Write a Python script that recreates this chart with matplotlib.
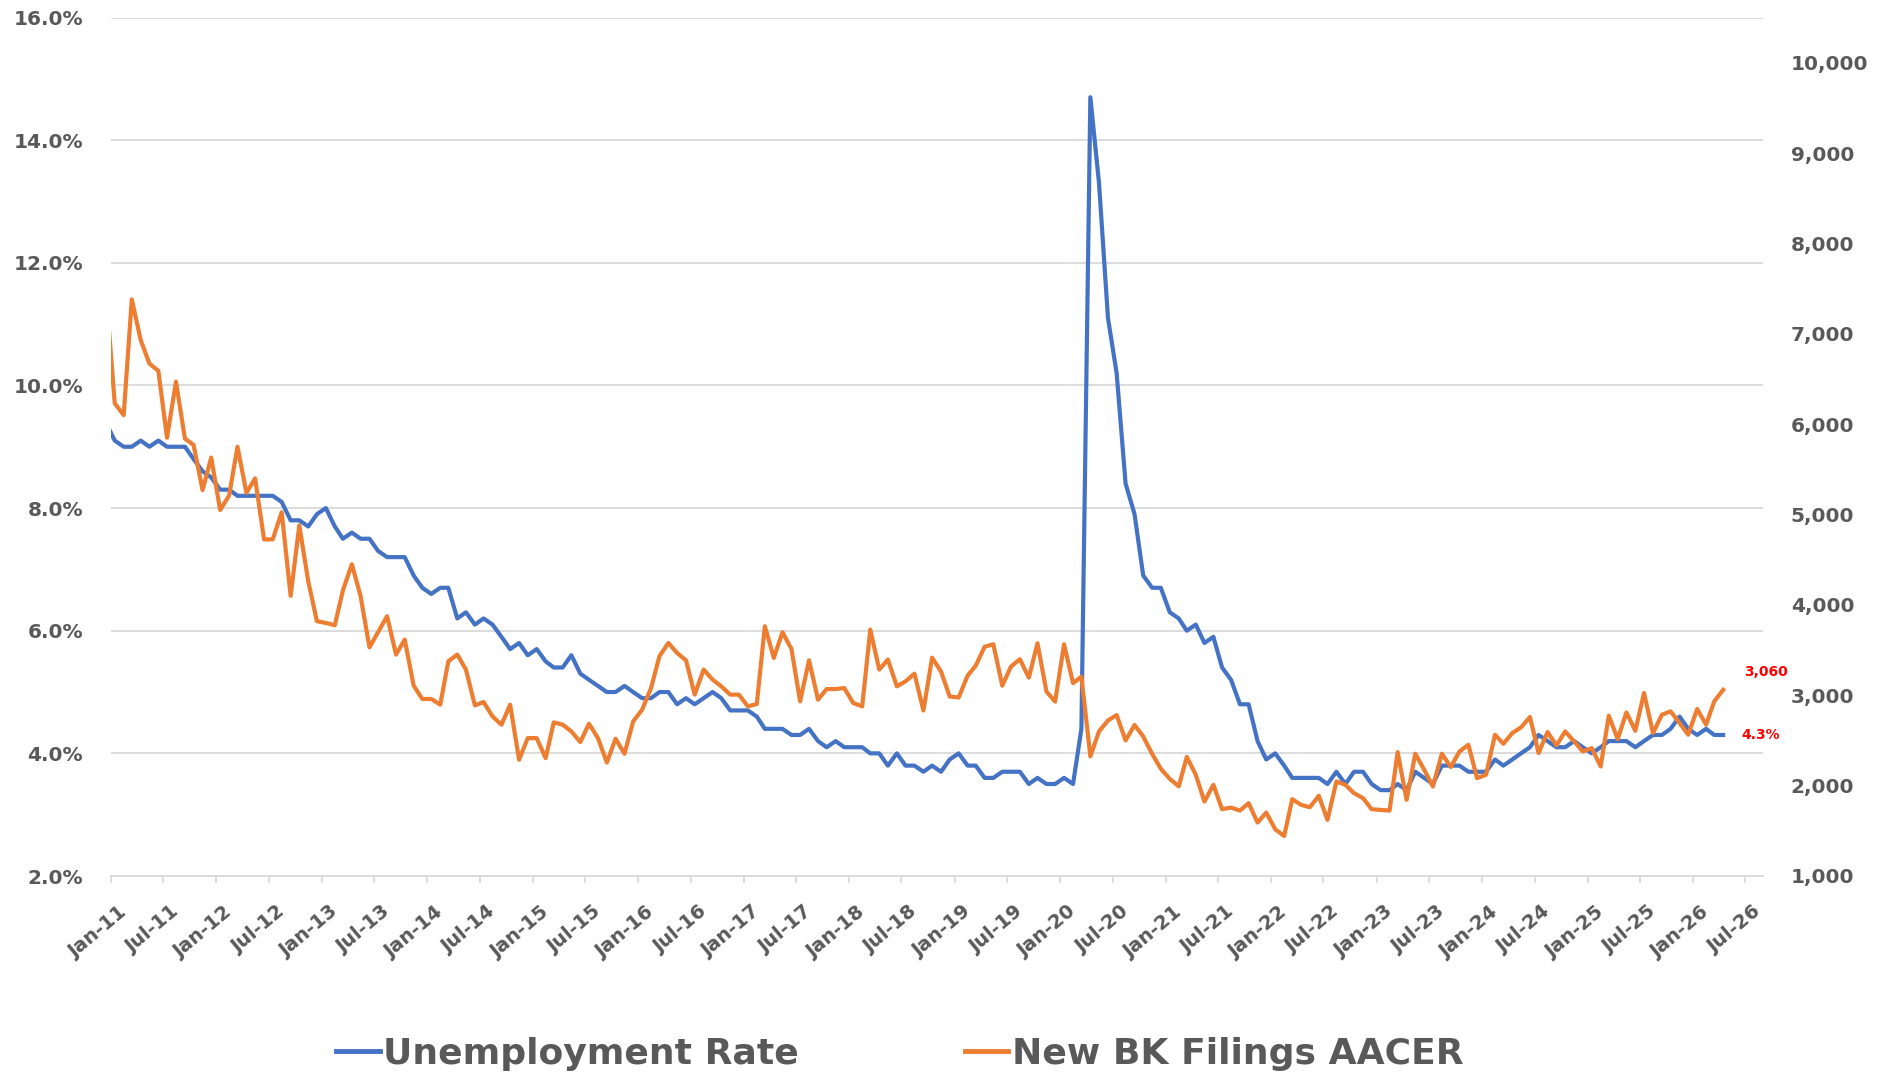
"""Unemployment rate vs new bankruptcy filings (AACER), monthly, dual axis."""
import matplotlib

matplotlib.use("Agg")
import matplotlib.dates as mdates
import matplotlib.pyplot as plt
import matplotlib.transforms as mtransforms
import pandas as pd
from matplotlib.lines import Line2D
from matplotlib.ticker import FixedLocator, FuncFormatter

# monthly series, Dec-2010 .. Apr-2026 (plotted mid-month)
first_month = "2010-12-01"

unemployment = [
    9.4,
    9.1, 9.0, 9.0, 9.1, 9.0, 9.1, 9.0, 9.0, 9.0, 8.8, 8.6, 8.5,
    8.3, 8.3, 8.2, 8.2, 8.2, 8.2, 8.2, 8.1, 7.8, 7.8, 7.7, 7.9,
    8.0, 7.7, 7.5, 7.6, 7.5, 7.5, 7.3, 7.2, 7.2, 7.2, 6.9, 6.7,
    6.6, 6.7, 6.7, 6.2, 6.3, 6.1, 6.2, 6.1, 5.9, 5.7, 5.8, 5.6,
    5.7, 5.5, 5.4, 5.4, 5.6, 5.3, 5.2, 5.1, 5.0, 5.0, 5.1, 5.0,
    4.9, 4.9, 5.0, 5.0, 4.8, 4.9, 4.8, 4.9, 5.0, 4.9, 4.7, 4.7,
    4.7, 4.6, 4.4, 4.4, 4.4, 4.3, 4.3, 4.4, 4.2, 4.1, 4.2, 4.1,
    4.1, 4.1, 4.0, 4.0, 3.8, 4.0, 3.8, 3.8, 3.7, 3.8, 3.7, 3.9,
    4.0, 3.8, 3.8, 3.6, 3.6, 3.7, 3.7, 3.7, 3.5, 3.6, 3.5, 3.5,
    3.6, 3.5, 4.4, 14.7, 13.3, 11.1, 10.2, 8.4, 7.9, 6.9, 6.7, 6.7,
    6.3, 6.2, 6.0, 6.1, 5.8, 5.9, 5.4, 5.2, 4.8, 4.8, 4.2, 3.9,
    4.0, 3.8, 3.6, 3.6, 3.6, 3.6, 3.5, 3.7, 3.5, 3.7, 3.7, 3.5,
    3.4, 3.4, 3.5, 3.4, 3.7, 3.6, 3.5, 3.8, 3.8, 3.8, 3.7, 3.7,
    3.7, 3.9, 3.8, 3.9, 4.0, 4.1, 4.3, 4.2, 4.1, 4.1, 4.2, 4.1,
    4.0, 4.1, 4.2, 4.2, 4.2, 4.1, 4.2, 4.3, 4.3, 4.4, 4.6, 4.4,
    4.3, 4.4, 4.3, 4.3,
]

bk_filings = [
    7500,
    6230, 6100, 7380, 6930, 6670, 6590, 5850, 6470, 5840, 5770, 5270, 5630,
    5050, 5210, 5750, 5240, 5400, 4725, 4725, 5025, 4100, 4880, 4260, 3820,
    3800, 3775, 4160, 4450, 4100, 3530, 3700, 3875, 3450, 3616, 3106, 2959,
    2959, 2896, 3376, 3450, 3284, 2888, 2925, 2766, 2674, 2896, 2286, 2526,
    2526, 2304, 2700, 2674, 2600, 2482, 2685, 2526, 2256, 2519, 2353, 2711,
    2840, 3080, 3432, 3579, 3468, 3387, 3007, 3284, 3173, 3099, 3007, 3007,
    2877, 2903, 3764, 3413, 3697, 3513, 2933, 3387, 2951, 3069, 3069, 3080,
    2914, 2877, 3727, 3284, 3395, 3099, 3154, 3239, 2831, 3416, 3262, 2986,
    2975, 3217, 3327, 3537, 3564, 3106, 3317, 3399, 3195, 3575, 3041, 2930,
    3564, 3134, 3206, 2324, 2600, 2721, 2781, 2500, 2671, 2544, 2351, 2186,
    2075, 1992, 2318, 2120, 1824, 2009, 1739, 1757, 1724, 1806, 1591, 1702,
    1517, 1443, 1850, 1787, 1761, 1887, 1621, 2046, 2009, 1917, 1861, 1739,
    1732, 1724, 2371, 1843, 2353, 2175, 1990, 2353, 2206, 2378, 2452, 2083,
    2120, 2563, 2463, 2582, 2644, 2759, 2360, 2593, 2445, 2600, 2489, 2378,
    2415, 2212, 2774, 2515, 2810, 2607, 3025, 2582, 2785, 2822, 2693, 2563,
    2848, 2674, 2932, 3060,
]

series_labels = ["Unemployment Rate", "New BK Filings AACER"]
last_labels = ["4.3%", "3,060"]
left_ticks = [2, 4, 6, 8, 10, 12, 14, 16]
right_ticks = [1000, 2000, 3000, 4000, 5000, 6000, 7000, 8000, 9000, 10000]

BLUE = "#4472C4"
ORANGE = "#ED7D31"
GREY_TXT = "#595959"
GRID = "#D9D9D9"

dates = pd.date_range(first_month, periods=len(unemployment), freq="MS") + pd.Timedelta(days=14)
xticks = pd.date_range("2011-01-01", "2026-07-01", freq="6MS")

fig = plt.figure(figsize=(18.86, 10.74), dpi=100)
ax = fig.add_axes([110.7 / 1886, 1 - 876 / 1074, (1763 - 110.7) / 1886, (876 - 17.5) / 1074])
ax2 = ax.twinx()

ax.plot(dates, unemployment, color=BLUE, lw=3.0, solid_joinstyle="round")
ax2.plot(dates, bk_filings, color=ORANGE, lw=3.0, solid_joinstyle="round")

ax.set_xlim(pd.Timestamp("2011-01-01"), pd.Timestamp("2026-08-31"))
ax.set_ylim(2, 16)
ax2.set_ylim(1000, 10500)

ax.yaxis.set_major_locator(FixedLocator(left_ticks))
ax.yaxis.set_major_formatter(FuncFormatter(lambda v, _: f"{v:.1f}%"))
ax2.yaxis.set_major_locator(FixedLocator(right_ticks))
ax2.yaxis.set_major_formatter(FuncFormatter(lambda v, _: f"{int(v):,}"))

ax.set_xticks(xticks)
ax.xaxis.set_major_formatter(mdates.DateFormatter("%b-%y"))

ax.grid(axis="y", color=GRID, lw=1.3)
ax.set_axisbelow(True)
for a in (ax, ax2):
    for s in a.spines.values():
        s.set_visible(False)
ax.spines["bottom"].set_visible(True)
ax.spines["bottom"].set_color(GRID)
ax.spines["bottom"].set_linewidth(1.3)

ax.tick_params(axis="y", length=0, pad=20, labelsize=14.5, labelcolor=GREY_TXT)
ax2.tick_params(axis="y", length=0, pad=20, labelsize=14.5, labelcolor=GREY_TXT)
ax.tick_params(axis="x", length=5, width=1.3, color=GRID, pad=14, labelsize=14, labelcolor=GREY_TXT)
for lbl in ax.get_yticklabels() + ax2.get_yticklabels():
    lbl.set_fontweight("bold")
shift = mtransforms.ScaledTranslation(0.07, 0, fig.dpi_scale_trans)
for lbl in ax.get_xticklabels():
    lbl.set_fontweight("bold")
    lbl.set_rotation(40)
    lbl.set_ha("right")
    lbl.set_va("top")
    lbl.set_rotation_mode("anchor")
    lbl.set_transform(lbl.get_transform() + shift)

# end-point value labels
ax.annotate(last_labels[0], (dates[-1], unemployment[-1]), xytext=(13, 0), textcoords="offset points",
            color="red", fontsize=10, fontweight="bold", va="center", ha="left")
ax2.annotate(last_labels[1], (dates[-1], bk_filings[-1]), xytext=(15, 12.6), textcoords="offset points",
             color="red", fontsize=10, fontweight="bold", va="center", ha="left")

handles = [Line2D([], [], color=BLUE, lw=3.5), Line2D([], [], color=ORANGE, lw=3.5)]
leg = fig.legend(handles, series_labels, loc="center", bbox_to_anchor=(900 / 1886, 1 - 1054 / 1074),
                 ncol=2, frameon=False, handlelength=1.2, handletextpad=0.1, columnspacing=4.6,
                 prop={"size": 26, "weight": "bold"})
for t in leg.get_texts():
    t.set_color(GREY_TXT)

fig.savefig("out.png", dpi=100, facecolor="white")
